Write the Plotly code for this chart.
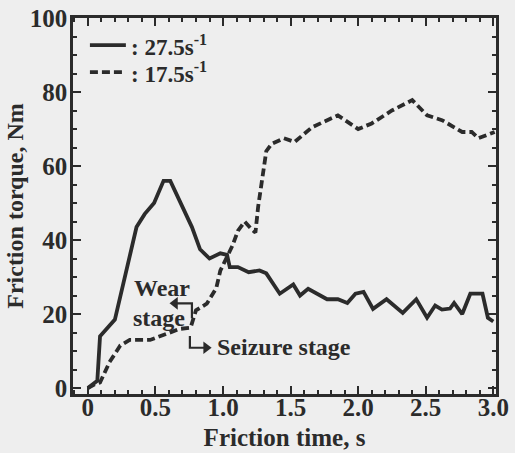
import plotly.graph_objects as go

# Data
time_27 = [0, 0.07, 0.09, 0.2, 0.36, 0.42, 0.49, 0.56, 0.61, 0.69, 0.77, 0.83, 0.9, 0.98, 1.03, 1.05,
           1.11, 1.19, 1.27, 1.32, 1.42, 1.52, 1.57, 1.63, 1.77, 1.85, 1.92, 1.98, 2.04, 2.11, 2.21,
           2.33, 2.43, 2.51, 2.57, 2.62, 2.68, 2.71, 2.77, 2.83, 2.92, 2.96, 3.0]
torque_27 = [0, 2, 14, 18.5, 43.5, 47, 50, 56, 56, 49.5, 43.5, 37.5, 35, 36.4, 36, 32.7,
             32.7, 31.3, 31.8, 31, 25.5, 28, 25, 26.8, 24, 24, 23, 25.5, 26, 21.4, 24,
             20.3, 24, 19, 22.3, 21.2, 21.5, 23, 20, 25.5, 25.5, 19, 18]

time_17 = [0, 0.05, 0.09, 0.16, 0.24, 0.31, 0.46, 0.53, 0.68, 0.76, 0.8, 0.88, 0.95, 0.98, 1.07,
           1.11, 1.16, 1.21, 1.24, 1.26, 1.29, 1.32, 1.36, 1.45, 1.53, 1.66, 1.85, 2.0, 2.1,
           2.25, 2.4, 2.51, 2.62, 2.77, 2.84, 2.89, 3.01]
torque_17 = [0, 1, 1.5, 7, 11.5, 13, 13, 14, 16, 16.3, 21, 22.8, 27, 31.7, 38.5,
             42.5, 45, 43, 42, 49, 56, 64, 66, 67.5, 66.5, 70.5, 73.7, 70, 71.5,
             75, 77.8, 73.7, 72.4, 69.2, 69.2, 67.5, 69.2]

series_labels = [": 27.5s<sup>-1</sup>", ": 17.5s<sup>-1</sup>"]

x_tickvals = [0, 0.5, 1.0, 1.5, 2.0, 2.5, 3.0]
x_ticktext = ["0", "0.5", "1.0", "1.5", "2.0", "2.5", "3.0"]
y_tickvals = [0, 20, 40, 60, 80, 100]
y_ticktext = ["0", "20", "40", "60", "80", "100"]

# stage-marker arrows (time, torque)
wear_arrow_x = [0.77, 0.77, 0.645]
wear_arrow_y = [18.9, 22.9, 22.9]
seizure_arrow_x = [0.755, 0.755, 0.875]
seizure_arrow_y = [14.1, 10.9, 10.9]

INK = "#2b2b2b"
FONT = "Liberation Serif"
DASH = "8px,4px"

fig = go.Figure()
fig.add_trace(go.Scatter(x=time_27, y=torque_27, mode="lines", name=series_labels[0],
                         line=dict(color=INK, width=3.8), showlegend=False))
fig.add_trace(go.Scatter(x=time_17, y=torque_17, mode="lines", name=series_labels[1],
                         line=dict(color=INK, width=3.8, dash=DASH), showlegend=False))

# bracket arrows: line + arrowhead marker at the end
for ax_, ay_, sym in [(wear_arrow_x, wear_arrow_y, "triangle-left"),
                      (seizure_arrow_x, seizure_arrow_y, "triangle-right")]:
    fig.add_trace(go.Scatter(x=ax_, y=ay_, mode="lines", line=dict(color=INK, width=2.2),
                             showlegend=False, hoverinfo="skip"))
    fig.add_trace(go.Scatter(x=[ax_[-1]], y=[ay_[-1]], mode="markers",
                             marker=dict(symbol=sym, size=11, color=INK),
                             showlegend=False, hoverinfo="skip"))

# manual legend (paper coordinates)
legend_rows = [(0.928, None), (0.856, DASH)]
for (ly, dash), label in zip(legend_rows, series_labels):
    fig.add_shape(type="line", xref="paper", yref="paper", x0=0.040, x1=0.125, y0=ly, y1=ly,
                  line=dict(color=INK, width=3.8, dash=dash))
    fig.add_annotation(xref="paper", yref="paper", x=0.133, y=ly, xanchor="left", yanchor="middle",
                       text=label, showarrow=False,
                       font=dict(family=FONT, size=23, color=INK, weight="bold"))

axis_common = dict(showline=True, linecolor=INK, linewidth=2.5, mirror="allticks",
                   ticks="inside", ticklen=8, tickwidth=2, tickcolor=INK,
                   showgrid=False, zeroline=False, automargin=False,
                   tickfont=dict(family=FONT, size=25, color=INK, weight="bold"))

fig.update_xaxes(range=[-0.11, 3.02], tickvals=x_tickvals, ticktext=x_ticktext,
                 ticklabelstandoff=-11,
                 minor=dict(dtick=0.1, ticks="inside", ticklen=4, tickwidth=1.5, tickcolor=INK),
                 title=dict(text="Friction time, s", standoff=9,
                            font=dict(family=FONT, size=25, color=INK, weight="bold")),
                 **axis_common)
fig.update_yaxes(range=[-1.6, 100], tickvals=y_tickvals, ticktext=y_ticktext,
                 ticklabelstandoff=-2,
                 minor=dict(dtick=5, ticks="inside", ticklen=4, tickwidth=1.5, tickcolor=INK),
                 title=dict(text="Friction torque, Nm", standoff=0,
                            font=dict(family=FONT, size=24, color=INK, weight="bold")),
                 **axis_common)

# Annotations
txt = dict(family=FONT, size=24, color=INK, weight="bold")
fig.add_annotation(x=0.55, y=27.0, text="Wear", showarrow=False, font=txt)
fig.add_annotation(x=0.53, y=19.0, text="stage", showarrow=False, font=txt)
fig.add_annotation(x=1.45, y=11.2, text="Seizure stage", showarrow=False, font=txt)

fig.update_layout(
    width=515, height=453,
    margin=dict(l=73, r=19, t=18, b=59),
    paper_bgcolor="#eeeeee", plot_bgcolor="#eeeeee",
    showlegend=False,
)

fig.write_html("out.html")
